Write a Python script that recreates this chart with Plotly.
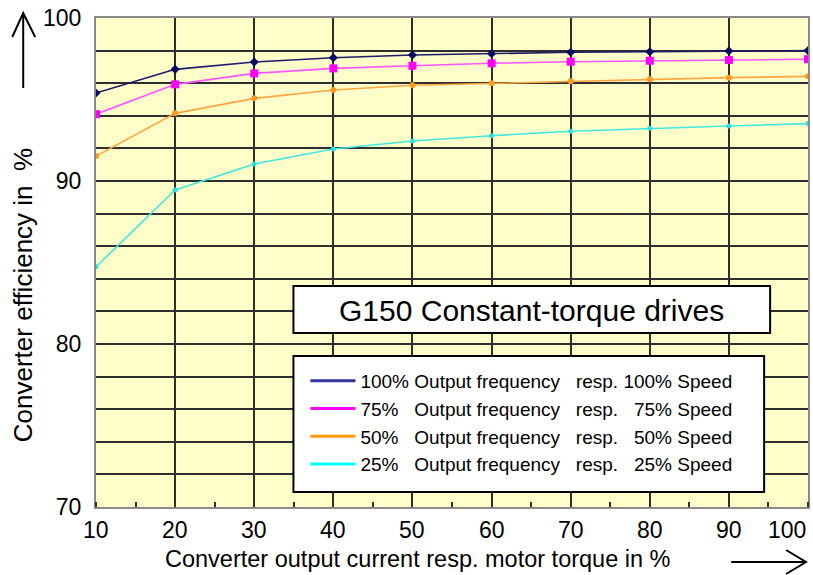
import plotly.graph_objects as go

# ---------------- data ----------------
current_pct = [10, 20, 30, 40, 50, 60, 70, 80, 90, 100]
eff_100 = [95.4, 96.85, 97.3, 97.56, 97.73, 97.81, 97.9, 97.93, 97.98, 98.0]
eff_75 = [94.1, 95.93, 96.6, 96.91, 97.07, 97.22, 97.32, 97.38, 97.42, 97.47]
eff_50 = [91.53, 94.15, 95.07, 95.58, 95.87, 95.99, 96.12, 96.24, 96.34, 96.42]
eff_25 = [84.74, 89.45, 91.04, 91.96, 92.45, 92.78, 93.05, 93.23, 93.37, 93.52]

series_labels = [
    "100% Output frequency   resp. 100% Speed",
    "75%   Output frequency   resp.   75% Speed",
    "50%   Output frequency   resp.   50% Speed",
    "25%   Output frequency   resp.   25% Speed",
]
x_tick_vals = [10, 20, 30, 40, 50, 60, 70, 80, 90, 100]
y_tick_vals = [70, 80, 90, 100]
chart_title = "G150 Constant-torque drives"
x_title = "Converter output current resp. motor torque in %"
y_title = "Converter efficiency in \u00a0%"

# ---------------- styling ----------------
W, H = 813, 575
L, R, T, B = 96, 3, 18, 68
PW, PH = W - L - R, H - T - B
FONT = "Liberation Sans, Arial, sans-serif"


def px(xp):
    return (xp - L) / PW


def py(yp):
    return (H - B - yp) / PH


line_colors = ["#1c1c6a", "#ff55ff", "#ffa640", "#40e8e0"]
legend_colors = ["#34349a", "#ff00ff", "#ff9900", "#00ffff"]
marker_colors = ["#0a0a60", "#ff00ff", "#ff9a20", "#30e0d8"]
marker_symbols = ["diamond", "square", "circle", "circle"]
marker_sizes = [7, 8, 6, 5]

fig = go.Figure()
all_series = [eff_100, eff_75, eff_50, eff_25]
for i, ys in enumerate(all_series):
    fig.add_trace(go.Scatter(
        x=current_pct, y=ys, mode="lines+markers",
        line=dict(color=line_colors[i], width=1.6),
        marker=dict(color=marker_colors[i], symbol=marker_symbols[i], size=marker_sizes[i]),
        showlegend=False, hoverinfo="x+y",
    ))
for i, lab in enumerate(series_labels):
    fig.add_trace(go.Scatter(
        x=[None], y=[None], mode="lines",
        line=dict(color=legend_colors[i], width=3),
        name=lab.replace(" ", "\u00a0"),
    ))

shapes = [
    # title box
    dict(type="rect", xref="paper", yref="paper",
         x0=px(294), x1=px(772), y0=py(333), y1=py(286),
         fillcolor="white", line=dict(color="black", width=2), layer="above"),
    # legend box
    dict(type="rect", xref="paper", yref="paper",
         x0=px(294), x1=px(766), y0=py(492), y1=py(356),
         fillcolor="white", line=dict(color="black", width=2), layer="above"),
    # up arrow
    dict(type="path", xref="paper", yref="paper",
         path=f"M {px(23)},{py(88)} L {px(23)},{py(13)} M {px(12)},{py(37)} L {px(23)},{py(13)} L {px(35)},{py(37)}",
         line=dict(color="black", width=2)),
    # right arrow
    dict(type="path", xref="paper", yref="paper",
         path=f"M {px(733)},{py(562)} L {px(808)},{py(562)} M {px(788)},{py(550)} L {px(808)},{py(562)} L {px(788)},{py(574)}",
         line=dict(color="black", width=2)),
]

annotations = [
    dict(text=chart_title, xref="paper", yref="paper", x=px(533), y=py(310),
         xanchor="center", yanchor="middle", showarrow=False,
         font=dict(family=FONT, size=30, color="black")),
    dict(text=x_title, xref="paper", yref="paper", x=px(419), y=py(559),
         xanchor="center", yanchor="middle", showarrow=False,
         font=dict(family=FONT, size=23.5, color="black")),
    dict(text=y_title, xref="paper", yref="paper", x=px(23), y=py(295),
         xanchor="center", yanchor="middle", showarrow=False, textangle=-90,
         font=dict(family=FONT, size=26, color="black")),
]
for v in x_tick_vals:
    annotations.append(dict(
        text=str(v), xref="x", yref="paper", x=v, y=py(530),
        xanchor="right" if v == x_tick_vals[-1] else "center", yanchor="middle",
        showarrow=False, font=dict(family=FONT, size=23, color="black")))

grid_col = "#2e2e2e"
fig.update_layout(
    width=W, height=H,
    margin=dict(l=L, r=R, t=T, b=B, pad=0),
    paper_bgcolor="white", plot_bgcolor="#FFFDC8",
    font=dict(family=FONT, color="black"),
    shapes=shapes, annotations=annotations,
    legend=dict(x=px(306), y=py(362), xanchor="left", yanchor="top",
                bgcolor="rgba(0,0,0,0)", borderwidth=0, itemwidth=45,
                font=dict(family=FONT, size=19, color="black")),
    xaxis=dict(range=[10, 100], tickvals=x_tick_vals, showticklabels=False,
               ticks="", showgrid=True, gridcolor=grid_col, gridwidth=1.5,
               showline=True, linecolor="#8a8a8a", linewidth=2, mirror=True,
               zeroline=False,
               minor=dict(dtick=5, ticks="inside", ticklen=5, tickcolor=grid_col,
                          tickwidth=1.5, showgrid=False)),
    yaxis=dict(range=[70, 100], tickvals=y_tick_vals, ticks="",
               ticklabelstandoff=8,
               tickfont=dict(family=FONT, size=23, color="black"),
               showgrid=True, gridcolor=grid_col, gridwidth=1.5,
               showline=True, linecolor="#8a8a8a", linewidth=2, mirror=True,
               zeroline=False,
               minor=dict(dtick=2, showgrid=True, gridcolor=grid_col, gridwidth=1.5)),
)

fig.write_html(
    "out.html",
    config={"displayModeBar": False},
    post_script="document.body.style.margin='0';document.body.style.overflow='hidden';",
)
